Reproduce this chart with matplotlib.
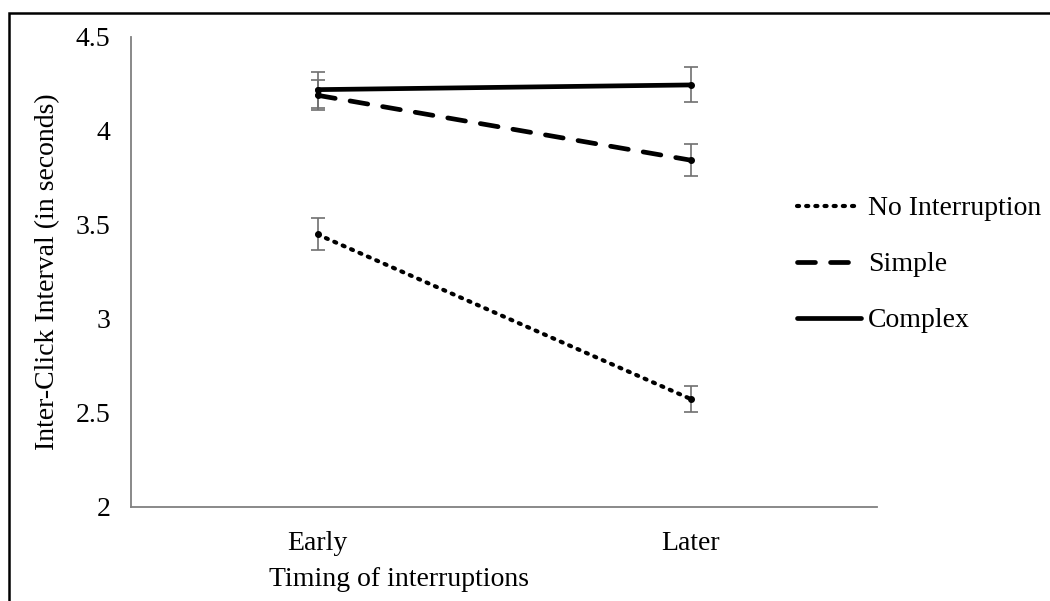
import numpy as np
import matplotlib.pyplot as plt
from matplotlib.patches import Rectangle

plt.rcParams['font.family'] = ['Liberation Serif', 'DejaVu Serif']

timing = ['Early', 'Later']
no_interruption = [3.45, 2.575]
no_interruption_err = [0.085, 0.07]
simple = [4.19, 3.845]
simple_err = [0.08, 0.087]
complex_ = [4.22, 4.245]
complex_err = [0.095, 0.093]

fig = plt.figure(figsize=(10.5, 6.01), dpi=100)
ax = fig.add_axes([131 / 1050, 1 - 507 / 601, (877 - 131) / 1050, (507 - 37) / 601])

x = np.arange(len(timing))
series = [
    ('No Interruption', no_interruption, no_interruption_err, (0, (0.5, 1.7)), 3.0),
    ('Simple', simple, simple_err, (0, (3.8, 3.2)), 3.4),
    ('Complex', complex_, complex_err, '-', 3.4),
]
for label, vals, errs, ls, lw in series:
    ax.errorbar(x, vals, yerr=errs, fmt='none', ecolor='#707070', elinewidth=1.2,
                capsize=5, capthick=1.2, zorder=2)
    ax.plot(x, vals, color='black', linestyle=ls, linewidth=lw, label=label,
            marker='o', markersize=4, zorder=3, dash_capstyle='round',
            solid_capstyle='round')

ax.set_xlim(-0.5, 1.5)
ax.set_ylim(2, 4.5)
ax.set_xticks(x)
ax.set_xticklabels(timing)
ax.set_yticks([2, 2.5, 3, 3.5, 4, 4.5])
ax.set_yticklabels(['2', '2.5', '3', '3.5', '4', '4.5'])
ax.tick_params(length=0, labelsize=20, pad=15)
ax.tick_params(axis='x', pad=17)
for side in ['top', 'right']:
    ax.spines[side].set_visible(False)
for side in ['left', 'bottom']:
    ax.spines[side].set_color('#808080')
    ax.spines[side].set_linewidth(1.3)

ax.set_xlabel('Timing of interruptions', fontsize=20)
ax.xaxis.set_label_coords(0.359, -0.128)
ax.set_ylabel('Inter-Click Interval (in seconds)', fontsize=20, labelpad=11)

leg = ax.legend(loc='upper left', bbox_to_anchor=(772 / 1050, 1 - 171 / 601),
                bbox_transform=fig.transFigure, frameon=False, fontsize=20,
                handlelength=2.3, handletextpad=0.25, labelspacing=1.1)
for h in leg.legend_handles:
    h.set_marker('')

# outer frame around the figure
fig.patches.append(Rectangle((9 / 1050, -0.2), 1.2, 1.2 - 13 / 601, fill=False,
                             edgecolor='black', linewidth=1.8,
                             transform=fig.transFigure, figure=fig))

fig.savefig('out.png', dpi=100)
